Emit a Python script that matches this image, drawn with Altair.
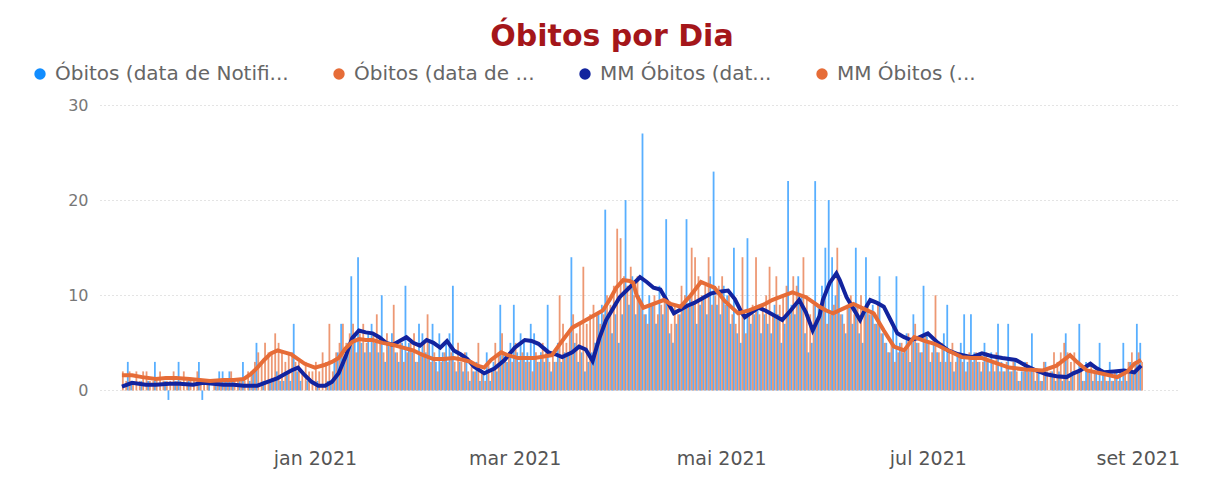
import altair as alt
import pandas as pd

# ---------------- data ----------------
inicio = "2020-11-05"

obitos_notificacao = [
    0, 0, 3, 1, 0, 0, 1, 0, 1, 0,
    3, 0, 0, 1, -1, 0, 1, 3, 0, 0,
    1, 0, 0, 3, -1, 0, 1, 0, 1, 2,
    2, 1, 2, 1, 0, 1, 3, 0, 1, 2,
    5, 0, 1, 0, 1, 1, 2, 1, 1, 2,
    1, 7, 2, 1, 0, 1, 0, 0, 1, 0,
    0, 1, 1, 3, 4, 7, 3, 5, 12, 6,
    14, 5, 4, 6, 7, 5, 4, 10, 3, 5,
    6, 4, 3, 5, 11, 5, 4, 3, 7, 6,
    4, 5, 7, 3, 6, 4, 5, 6, 11, 2,
    3, 2, 4, 1, 2, 3, 1, 2, 4, 1,
    3, 2, 9, 4, 3, 5, 9, 4, 6, 5,
    4, 7, 6, 3, 4, 3, 9, 2, 3, 5,
    3, 4, 4, 14, 5, 3, 4, 2, 3, 4,
    5, 8, 9, 19, 8, 6, 8, 5, 8, 20,
    9, 12, 8, 10, 27, 8, 10, 9, 7, 11,
    8, 18, 6, 5, 7, 8, 9, 18, 10, 9,
    7, 9, 10, 8, 12, 23, 9, 8, 11, 10,
    7, 15, 6, 5, 8, 16, 7, 8, 9, 6,
    8, 7, 6, 9, 8, 5, 7, 22, 9, 8,
    12, 10, 6, 4, 5, 22, 9, 11, 15, 20,
    14, 10, 12, 8, 6, 9, 7, 15, 6, 5,
    14, 8, 9, 7, 12, 6, 5, 4, 7, 12,
    5, 4, 6, 3, 8, 5, 4, 11, 6, 3,
    5, 4, 3, 6, 9, 3, 2, 4, 5, 8,
    3, 8, 4, 3, 2, 5, 3, 4, 2, 7,
    3, 2, 7, 2, 3, 1, 2, 3, 2, 6,
    1, 2, 1, 3, 0, 2, 1, 2, 1, 6,
    1, 2, 0, 7, 1, 3, 2, 1, 2, 5,
    2, 1, 3, 1, 2, 2, 5, 1, 3, 2,
    7, 5,
]

obitos_data_obito = [
    2, 1, 2, 1, 2, 1, 2, 2, 1, 1,
    1, 2, 1, 1, 1, 2, 1, 1, 2, 1,
    1, 1, 2, 1, 1, 1, 0, 1, 1, 1,
    1, 1, 2, 1, 1, 1, 1, 2, 2, 3,
    4, 3, 5, 4, 4, 6, 5, 4, 3, 4,
    4, 3, 3, 2, 3, 2, 2, 3, 2, 4,
    3, 7, 2, 4, 5, 7, 5, 6, 7, 4,
    6, 7, 5, 4, 6, 8, 5, 4, 6, 5,
    9, 4, 5, 3, 4, 5, 6, 3, 4, 5,
    8, 3, 4, 2, 3, 4, 3, 4, 3, 5,
    3, 4, 2, 3, 2, 5, 2, 1, 3, 2,
    5, 4, 6, 3, 4, 3, 5, 3, 4, 3,
    3, 2, 4, 3, 5, 4, 3, 4, 3, 10,
    7, 5, 6, 8, 6, 7, 13, 7, 8, 9,
    8, 7, 8, 10, 9, 11, 17, 16, 12, 11,
    13, 10, 12, 9, 8, 7, 9, 10, 8, 9,
    10, 9, 7, 9, 8, 11, 10, 9, 15, 14,
    12, 10, 11, 14, 9, 10, 11, 12, 9, 10,
    8, 7, 9, 14, 6, 8, 9, 14, 8, 9,
    10, 13, 8, 12, 9, 10, 11, 8, 12, 11,
    9, 14, 10, 8, 9, 7, 8, 10, 7, 8,
    9, 15, 8, 7, 9, 10, 8, 9, 10, 8,
    9, 8, 7, 9, 6, 5, 4, 5, 3, 4,
    5, 4, 6, 5, 7, 5, 4, 6, 5, 4,
    10, 4, 5, 3, 4, 5, 3, 4, 3, 2,
    4, 3, 4, 3, 3, 4, 2, 3, 4, 2,
    2, 3, 2, 3, 2, 1, 2, 3, 2, 2,
    2, 1, 3, 2, 2, 4, 3, 4, 5, 4,
    3, 4, 2, 2, 1, 2, 3, 2, 1, 1,
    2, 1, 1, 2, 1, 1, 2, 3, 4, 3,
    4, 3,
]

mm_notif_dias = [0, 3, 7, 10, 14, 17, 21, 24, 27, 30, 33, 36, 40, 43, 46, 48, 50, 52, 54, 56,
                 58, 60, 62, 64, 66, 68, 70, 72, 74, 76, 78, 80, 82, 84, 86, 88, 90, 92, 94, 96,
                 98, 100, 102, 104, 107, 110, 113, 116, 119, 121, 123, 126, 128, 130, 133, 135, 137, 139, 141, 143,
                 145, 147, 149, 151, 153, 155, 157, 159, 161, 163, 165, 167, 169, 172, 174, 177, 179, 181, 183, 184,
                 186, 188, 190, 192, 195, 197, 200, 202, 204, 206, 207, 209, 211, 212, 214, 216, 218, 220, 221, 223,
                 225, 227, 229, 231, 233, 235, 238, 241, 244, 247, 251, 254, 257, 260, 264, 267, 270, 273, 276, 279,
                 281, 283, 286, 288, 290, 293, 296, 299, 301]
mm_notif_valores = [0.4, 0.8, 0.6, 0.6, 0.7, 0.7, 0.6, 0.8, 0.7, 0.6, 0.6, 0.5, 0.5, 0.9, 1.3, 1.7, 2.1, 2.4, 1.6, 0.9,
                    0.5, 0.5, 0.9, 1.8, 3.5, 5.5, 6.3, 6.1, 6.0, 5.6, 5.0, 4.8, 5.2, 5.6, 5.0, 4.7, 5.3, 5.0, 4.5, 5.2,
                    4.2, 3.8, 3.3, 2.5, 1.8, 2.3, 3.2, 4.5, 5.3, 5.2, 4.9, 4.0, 3.8, 3.5, 4.0, 4.6, 4.3, 3.1, 5.5, 7.4,
                    8.6, 9.8, 10.5, 11.2, 11.9, 11.4, 10.8, 10.6, 9.4, 8.1, 8.5, 8.9, 9.2, 9.8, 10.2, 10.4, 10.5, 9.6, 8.2, 7.7,
                    8.2, 8.7, 8.4, 8.0, 7.4, 8.2, 9.5, 8.2, 6.3, 7.8, 9.5, 11.3, 12.3, 11.6, 9.8, 8.6, 7.4, 8.9, 9.5, 9.2,
                    8.8, 7.4, 6.0, 5.6, 5.3, 5.5, 6.0, 5.0, 4.2, 3.8, 3.5, 3.9, 3.6, 3.4, 3.2, 2.6, 2.1, 1.7, 1.5, 1.4,
                    1.8, 2.1, 2.8, 2.3, 1.9, 2.0, 2.1, 1.9, 2.6]

mm_obito_dias = [0, 3, 6, 10, 13, 16, 20, 23, 26, 30, 33, 36, 38, 40, 42, 44, 46, 48, 50, 52,
                 54, 57, 60, 62, 64, 66, 68, 70, 72, 74, 77, 80, 83, 86, 89, 92, 95, 98, 101, 103,
                 105, 107, 109, 112, 114, 117, 120, 122, 125, 127, 130, 133, 136, 139, 142, 144, 146, 148, 150, 151,
                 152, 154, 157, 160, 162, 165, 168, 171, 173, 175, 178, 182, 185, 188, 190, 192, 195, 198, 202, 204,
                 206, 208, 210, 213, 216, 219, 222, 225, 228, 231, 234, 237, 240, 244, 248, 251, 254, 258, 262, 267,
                 272, 276, 280, 282, 285, 289, 294, 297, 299, 301]
mm_obito_valores = [1.6, 1.6, 1.4, 1.2, 1.3, 1.3, 1.2, 1.1, 1.0, 1.1, 1.1, 1.2, 1.7, 2.4, 3.2, 3.9, 4.2, 4.0, 3.8, 3.3,
                    2.8, 2.4, 2.7, 3.0, 3.4, 4.4, 5.1, 5.4, 5.3, 5.3, 5.0, 4.8, 4.5, 4.2, 3.7, 3.3, 3.3, 3.4, 3.2, 3.0,
                    2.6, 2.4, 3.2, 4.0, 3.7, 3.4, 3.4, 3.4, 3.6, 3.7, 5.2, 6.6, 7.2, 7.8, 8.4, 9.5, 10.8, 11.6, 11.5, 11.3,
                    10.0, 8.7, 9.1, 9.5, 9.1, 8.8, 10.0, 11.4, 11.1, 10.8, 9.4, 8.1, 8.4, 8.8, 9.1, 9.5, 9.9, 10.3, 9.8, 9.3,
                    8.8, 8.4, 8.1, 8.6, 9.1, 8.6, 8.1, 6.3, 4.6, 4.2, 5.6, 5.2, 4.9, 4.2, 3.5, 3.4, 3.4, 2.9, 2.4, 2.2,
                    2.1, 2.6, 3.7, 3.0, 2.1, 1.8, 1.4, 2.0, 2.8, 3.2]

series = ["Óbitos (data de Notifi...", "Óbitos (data de ...", "MM Óbitos (dat...", "MM Óbitos (..."]
cores = ["#118DFF", "#E66C37", "#12239E", "#E66C37"]
y_ticks = [0, 10, 20, 30]
x_ticks = ["2021-01-01", "2021-03-01", "2021-05-01", "2021-07-01", "2021-09-01"]
x_dominio = ["2020-10-31", "2021-09-12"]
titulo = "Óbitos por Dia"

# ---------------- tables ----------------
datas = pd.date_range(inicio, periods=len(obitos_notificacao), freq="D").strftime("%Y-%m-%d")
barras_notif = pd.DataFrame({"data": datas, "valor": obitos_notificacao, "serie": series[0]})
barras_obito = pd.DataFrame({"data": datas, "valor": obitos_data_obito, "serie": series[1]})
base_dia = pd.Timestamp(inicio)
linha_notif = pd.DataFrame({
    "data": [(base_dia + pd.Timedelta(days=d)).strftime("%Y-%m-%d") for d in mm_notif_dias],
    "valor": mm_notif_valores, "serie": series[2]})
linha_obito = pd.DataFrame({
    "data": [(base_dia + pd.Timedelta(days=d)).strftime("%Y-%m-%d") for d in mm_obito_dias],
    "valor": mm_obito_valores, "serie": series[3]})


def dt(s):
    y, m, d = (int(p) for p in s.split("-"))
    return alt.DateTime(year=y, month=m, date=d, utc=True)


FONT = "DejaVu Sans"
x_scale = alt.Scale(type="utc", domain=[dt(s) for s in x_dominio])
y_scale = alt.Scale(domain=[-5, 30], nice=False, zero=True)

x_enc = alt.X(
    "data:T", scale=x_scale, title=None,
    axis=alt.Axis(values=[dt(s) for s in x_ticks], grid=False, domain=False, ticks=False,
                  labelExpr="['jan','fev','mar','abr','mai','jun','jul','ago','set','out','nov','dez'][utcmonth(datum.value)] + ' ' + utcyear(datum.value)",
                  labelFont=FONT, labelFontSize=19, labelColor="#555555", labelPadding=11))
y_enc = alt.Y(
    "valor:Q", scale=y_scale, title=None,
    axis=alt.Axis(values=y_ticks, grid=True, gridDash=[1, 3], gridColor="#C8C8C8", domain=False,
                  ticks=False, labelFont=FONT, labelFontSize=16, labelColor="#777777", labelPadding=12))

cor = alt.Color(
    "serie:N", scale=alt.Scale(domain=series, range=cores),
    legend=alt.Legend(title=None, orient="none", legendX=-70, legendY=-41, direction="horizontal",
                      symbolType="circle", symbolSize=130, symbolOpacity=1, symbolStrokeWidth=0,
                      labelFont=FONT, labelFontSize=20, labelColor="#666666", labelLimit=500,
                      columnPadding=40, labelOffset=5))

b1 = alt.Chart(barras_notif).mark_bar(size=1.8, xOffset=-0.9, opacity=0.7).encode(x=x_enc, y=y_enc, color=cor)
b2 = alt.Chart(barras_obito).mark_bar(size=1.8, xOffset=0.9, opacity=0.7).encode(x=x_enc, y=y_enc, color=cor)
l1 = alt.Chart(linha_notif).mark_line(color=cores[2], strokeWidth=4, interpolate="linear").encode(x=x_enc, y=y_enc)
l2 = alt.Chart(linha_obito).mark_line(color=cores[3], strokeWidth=4, interpolate="linear").encode(x=x_enc, y=y_enc)

chart = alt.layer(b1, b2, l1, l2).properties(
    width=1080, height=333,
    autosize=alt.AutoSizeParams(type="none"),
    padding={"left": 92, "top": 97, "right": 29, "bottom": 33},
    title=alt.TitleParams(titulo, font=FONT, fontSize=30, fontWeight="bold", color="#A4161A",
                          anchor="middle", dx=-28, offset=12),
).configure(background="white").configure_view(stroke=None)

chart.save("out.html", embed_options={"renderer": "svg", "actions": False})
